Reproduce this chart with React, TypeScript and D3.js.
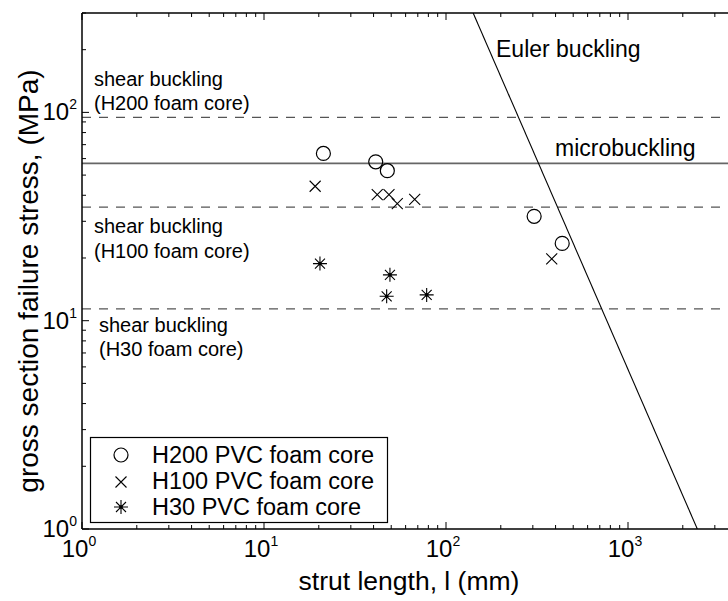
import React from "react";
import * as d3 from "d3";

// ---- data ----
const h200Length = [21.2, 41.1, 47.6, 305, 435];
const h200Stress = [63.5, 57.9, 52.5, 31.7, 23.5];

const h100Length = [19.1, 41.9, 48.6, 54.0, 67.3, 381];
const h100Stress = [44.2, 40.3, 40.3, 36.5, 38.2, 19.8];

const h30Length = [20.3, 49.2, 47.2, 78.3];
const h30Stress = [18.8, 16.6, 13.1, 13.3];

const shearLevels = [94.6, 35.1, 11.4]; // H200, H100, H30 shear buckling
const shearLabels = [
  ["shear buckling", "(H200 foam core)"],
  ["shear buckling", "(H100 foam core)"],
  ["shear buckling", "(H30 foam core)"],
];
const microLevel = 56.9;
const eulerLength = [141, 2404];
const eulerStress = [300, 1];

const xTickExps = [0, 1, 2, 3];
const yTickExps = [0, 1, 2];
const legendLabels = ["H200 PVC foam core", "H100 PVC foam core", "H30 PVC foam core"];

const FONT = "'Liberation Sans', Arial, Helvetica, sans-serif";

const W = 728;
const H = 601;
const L = 82, R = 810, T = 13, B = 529;

const x = d3.scaleLog().domain([1, 1e4]).range([L, R]);
const y = d3.scaleLog().domain([1, 300]).range([B, T]);

function minorTicks(lo: number, hi: number) {
  const out: { v: number; major: boolean }[] = [];
  for (let e = Math.floor(Math.log10(lo)); e <= Math.ceil(Math.log10(hi)); e++) {
    for (let m = 1; m <= 9; m++) {
      const v = m * Math.pow(10, e);
      if (v >= lo - 1e-9 && v <= hi + 1e-9) out.push({ v, major: m === 1 });
    }
  }
  return out;
}

const Circle = ({ cx, cy }: { cx: number; cy: number }) => (
  <circle cx={cx} cy={cy} r={7} fill="none" stroke="#000" strokeWidth={1.2} />
);
const Cross = ({ cx, cy }: { cx: number; cy: number }) => {
  const s = 5.5;
  return (
    <path
      d={`M${cx - s},${cy - s}L${cx + s},${cy + s}M${cx - s},${cy + s}L${cx + s},${cy - s}`}
      stroke="#000"
      strokeWidth={1.1}
      fill="none"
    />
  );
};
const Star = ({ cx, cy }: { cx: number; cy: number }) => {
  const s = 7;
  const d = 5;
  return (
    <g>
      <path
        d={`M${cx},${cy - s}L${cx},${cy + s}M${cx - s},${cy}L${cx + s},${cy}M${cx - d},${cy - d}L${cx + d},${cy + d}M${cx - d},${cy + d}L${cx + d},${cy - d}`}
        stroke="#000"
        strokeWidth={1.1}
        fill="none"
      />
      <circle cx={cx} cy={cy} r={1.8} fill="#000" />
    </g>
  );
};

export default function App() {
  const xt = minorTicks(1, 1e4);
  const yt = minorTicks(1, 300);
  const eulerLine = d3
    .line<number>()
    .x((_, i) => x(eulerLength[i]))
    .y((_, i) => y(eulerStress[i]));

  return (
    <svg
      width={W}
      height={H}
      style={{ position: "absolute", left: 0, top: 0, background: "#fff" }}
      fontFamily={FONT}
    >
      <defs>
        <clipPath id="plot">
          <rect x={L} y={T} width={R - L} height={B - T} />
        </clipPath>
      </defs>
      <rect x={0} y={0} width={W} height={H} fill="#fff" />

      <g clipPath="url(#plot)">
        {shearLevels.map((v, i) => (
          <line key={i} x1={L} x2={R} y1={y(v)} y2={y(v)} stroke="#555" strokeWidth={1.2} strokeDasharray="9,8" />
        ))}
        <line x1={L} x2={R} y1={y(microLevel)} y2={y(microLevel)} stroke="#666" strokeWidth={1.8} />
        <path d={eulerLine(eulerLength) || ""} stroke="#000" strokeWidth={1.1} fill="none" />
      </g>

      {/* annotations */}
      <g fontSize={20} fill="#000">
        <text x={94} y={86}>{shearLabels[0][0]}</text>
        <text x={94} y={110}>{shearLabels[0][1]}</text>
        <text x={94} y={233}>{shearLabels[1][0]}</text>
        <text x={94} y={258}>{shearLabels[1][1]}</text>
        <text x={99} y={332}>{shearLabels[2][0]}</text>
        <text x={99} y={356}>{shearLabels[2][1]}</text>
        <text x={496} y={57} fontSize={23}>Euler buckling</text>
        <text x={555} y={156} fontSize={23}>microbuckling</text>
      </g>

      {/* data */}
      {h200Length.map((l, i) => (
        <Circle key={"a" + i} cx={x(l)} cy={y(h200Stress[i])} />
      ))}
      {h100Length.map((l, i) => (
        <Cross key={"b" + i} cx={x(l)} cy={y(h100Stress[i])} />
      ))}
      {h30Length.map((l, i) => (
        <Star key={"c" + i} cx={x(l)} cy={y(h30Stress[i])} />
      ))}

      {/* axes box */}
      <line x1={L} x2={R} y1={T} y2={T} stroke="#000" strokeWidth={1.5} />
      <line x1={L} x2={R} y1={B} y2={B} stroke="#000" strokeWidth={1.5} />
      <line x1={L} x2={L} y1={T} y2={B} stroke="#000" strokeWidth={1.5} />

      {xt.map((t, i) => {
        const px = x(t.v);
        const len = t.major ? 7 : 4;
        return (
          <g key={"xt" + i}>
            <line x1={px} x2={px} y1={B} y2={B - len} stroke="#000" strokeWidth={1} />
            <line x1={px} x2={px} y1={T} y2={T + len} stroke="#000" strokeWidth={1} />
          </g>
        );
      })}
      {yt.map((t, i) => {
        const py = y(t.v);
        const len = t.major ? 7 : 4;
        return <line key={"yt" + i} x1={L} x2={L + len} y1={py} y2={py} stroke="#000" strokeWidth={1} />;
      })}

      {/* tick labels */}
      {xTickExps.map((e) => (
        <text key={"xl" + e} x={x(Math.pow(10, e)) - 3} y={557} fontSize={24} textAnchor="middle">
          10
          <tspan dy={-11} fontSize={14}>{e}</tspan>
        </text>
      ))}
      {yTickExps.map((e) => (
        <text key={"yl" + e} x={77} y={y(Math.pow(10, e)) + 8} fontSize={24} textAnchor="end">
          10
          <tspan dy={-11} fontSize={14}>{e}</tspan>
        </text>
      ))}

      {/* axis titles */}
      <text x={409} y={590} fontSize={26.5} textAnchor="middle">strut length, l (mm)</text>
      <text
        transform={`translate(38,281) rotate(-90)`}
        fontSize={28}
        textAnchor="middle"
      >
        gross section failure stress, (MPa)
      </text>

      {/* legend */}
      <rect x={90.5} y={437.5} width={297} height={85} fill="#fff" stroke="#000" strokeWidth={1.2} />
      <Circle cx={121} cy={455} />
      <Cross cx={121} cy={482} />
      <Star cx={121} cy={507} />
      {legendLabels.map((s, i) => (
        <text key={"lg" + i} x={152} y={463 + i * 26} fontSize={23.5}>
          {s}
        </text>
      ))}
    </svg>
  );
}
